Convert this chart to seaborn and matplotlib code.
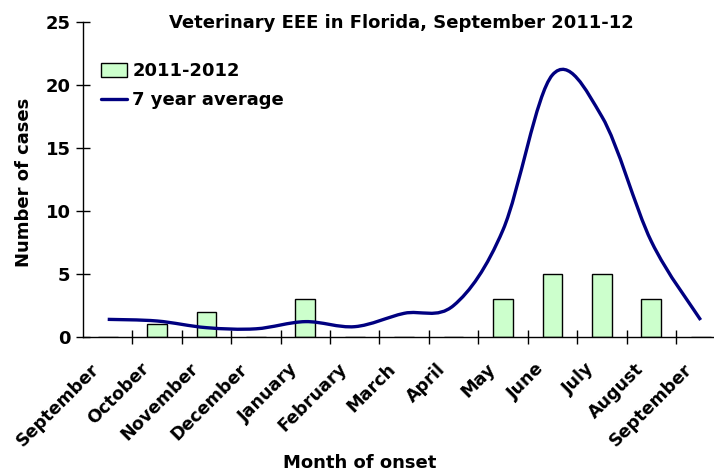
import numpy as np
import matplotlib
matplotlib.use("Agg")
import matplotlib.pyplot as plt
from matplotlib.path import Path
from matplotlib.patches import PathPatch, Patch
from matplotlib.lines import Line2D
import seaborn as sns

# ── DATA ────────────────────────────────────────────────────
months = ["September", "October", "November", "December", "January", "February",
          "March", "April", "May", "June", "July", "August", "September"]
cases_2011_12 = [0, 1, 2, 0, 3, 0, 0, 0, 3, 5, 5, 3, 0]
avg_7yr = [1.40, 1.27, 0.74, 0.65, 1.22, 0.82, 1.88, 2.50, 8.5, 20.8, 17.5, 7.6, 1.35]
y_ticks = [0, 5, 10, 15, 20, 25]

# ── STYLE ───────────────────────────────────────────────────
sns.set_style("white")
plt.rcParams["font.family"] = ["DejaVu Sans"]
plt.rcParams["font.weight"] = "bold"
plt.rcParams["text.color"] = "black"
plt.rcParams["axes.labelcolor"] = "black"
plt.rcParams["xtick.color"] = "black"
plt.rcParams["ytick.color"] = "black"
FS = 13

fig = plt.figure(figsize=(7.14, 4.73), dpi=100)
ax = fig.add_axes([83 / 714, 136 / 473, 631 / 714, 315 / 473])

idx = list(range(len(months)))
sns.barplot(x=idx, y=cases_2011_12, ax=ax, color="#CCFFCC", edgecolor="black",
            linewidth=1.0, width=0.4, saturation=1)

# smoothed line (Excel-like bezier through the points)
x = np.array(idx, dtype=float)
y = np.array(avg_7yr, dtype=float)
n = len(x)
verts = [(x[0], y[0])]
codes = [Path.MOVETO]
for i in range(n - 1):
    p0 = np.array([x[max(i - 1, 0)], y[max(i - 1, 0)]])
    p1 = np.array([x[i], y[i]])
    p2 = np.array([x[i + 1], y[i + 1]])
    p3 = np.array([x[min(i + 2, n - 1)], y[min(i + 2, n - 1)]])
    c1 = p1 + (p2 - p0) / 6
    c2 = p2 - (p3 - p1) / 6
    verts += [tuple(c1), tuple(c2), tuple(p2)]
    codes += [Path.CURVE4] * 3
ax.add_patch(PathPatch(Path(verts, codes), fill=False, edgecolor="#000080",
                       linewidth=2.4, capstyle="butt", zorder=3))

# axes
ax.set_xlim(-0.5, 12.27)
ax.set_ylim(0, 25)
ax.set_yticks(y_ticks)
ax.set_yticklabels([str(t) for t in y_ticks], fontsize=FS, fontweight="bold")
ax.set_xticks(np.arange(0.5, 12, 1))
ax.set_xticklabels([])
# month labels sit slightly left of the category centre, like Excel
ax.set_xticks(np.array(idx) - 0.22, minor=True)
ax.set_xticklabels(months, minor=True, rotation=45, ha="right", va="center",
                   rotation_mode="anchor", fontsize=12.6, fontweight="bold")
ax.tick_params(axis="x", which="minor", length=0, pad=21, bottom=False)
ax.tick_params(axis="both", which="major", direction="inout", length=10,
               width=1, color="black", bottom=True, left=True)
ax.tick_params(axis="y", pad=4)
for s in ["top", "right"]:
    ax.spines[s].set_visible(False)
for s in ["left", "bottom"]:
    ax.spines[s].set_color("black")
    ax.spines[s].set_linewidth(1)

ax.set_ylabel("Number of cases", fontsize=FS, fontweight="bold")
ax.yaxis.set_label_coords(-0.079, 0.49)
ax.set_xlabel("Month of onset", fontsize=FS, fontweight="bold")
ax.xaxis.set_label_coords(0.439, -0.372)

ax.text(0.505, 0.981, "Veterinary EEE in Florida, September 2011-12",
        transform=ax.transAxes, ha="center", va="baseline",
        fontsize=FS, fontweight="bold")

handles = [Patch(facecolor="#CCFFCC", edgecolor="black", linewidth=1),
           Line2D([0], [0], color="#000080", linewidth=2.4)]
ax.legend(handles, ["2011-2012", "7 year average"], loc="upper left",
          bbox_to_anchor=(0.028, 0.872), frameon=False,
          handlelength=1.45, handleheight=0.75, handletextpad=0.3,
          labelspacing=0.6, borderpad=0, borderaxespad=0,
          prop={"weight": "bold", "size": FS})

fig.savefig("out.png", dpi=100)
